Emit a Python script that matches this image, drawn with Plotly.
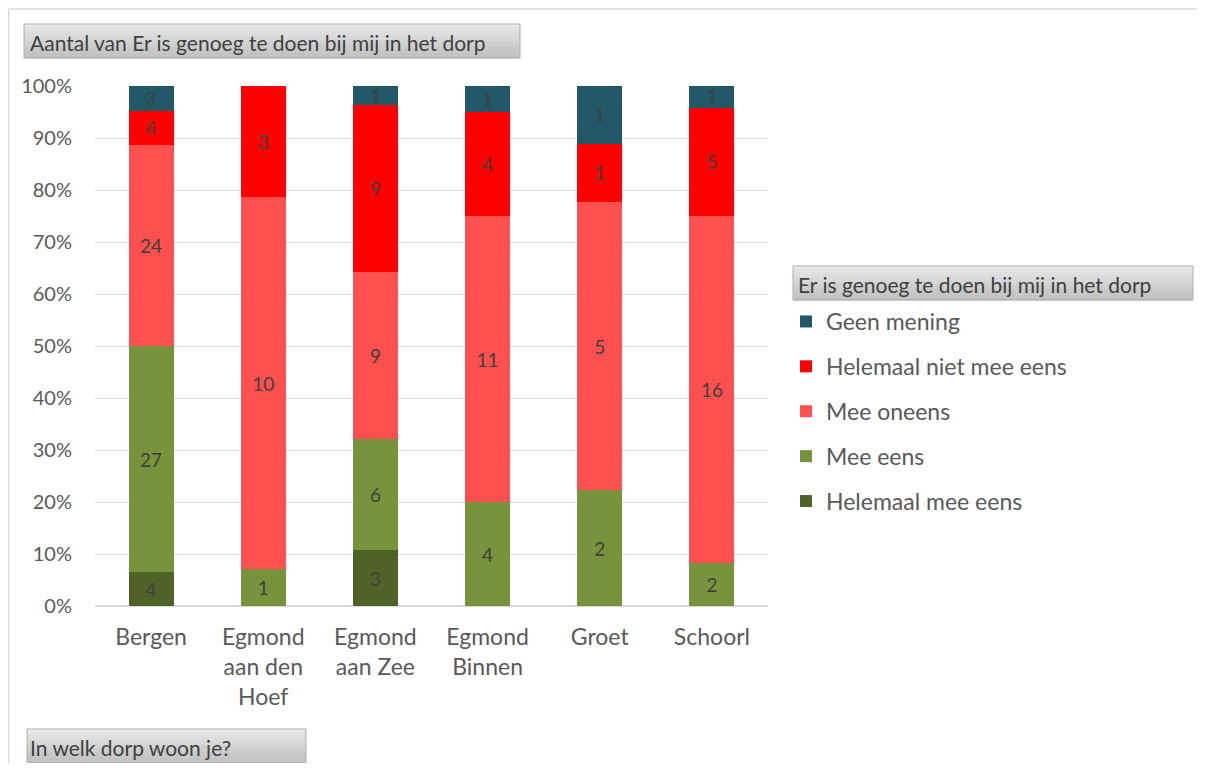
import plotly.graph_objects as go

villages = ["Bergen", "Egmond<br>aan den<br>Hoef", "Egmond<br>aan Zee", "Egmond<br>Binnen", "Groet", "Schoorl"]
helemaal_mee_eens = [4, None, 3, None, None, None]
mee_eens = [27, 1, 6, 4, 2, 2]
mee_oneens = [24, 10, 9, 11, 5, 16]
helemaal_niet_mee_eens = [4, 3, 9, 4, 1, 5]
geen_mening = [3, None, 1, 1, 1, 1]

series = [
    ("Helemaal mee eens", helemaal_mee_eens, "#4F6228"),
    ("Mee eens", mee_eens, "#77933C"),
    ("Mee oneens", mee_oneens, "#FF5050"),
    ("Helemaal niet mee eens", helemaal_niet_mee_eens, "#FF0000"),
    ("Geen mening", geen_mening, "#215968"),
]

# page has an 8px body margin; work in page pixels and convert
OFF = 8
W, H = 1205 - 2 * OFF, 771 - 2 * OFF
L, R, T, B = 95 - OFF, 768 - OFF, 86 - OFF, 606 - OFF
FONT = "Lato, 'Noto Sans', sans-serif"

def px(x):
    return (x - OFF - L) / (R - L)

def py(y):
    return (B - (y - OFF)) / (B - T)

fig = go.Figure()
for i, (name, vals, col) in enumerate(series):
    fig.add_trace(go.Bar(
        x=villages, y=vals, name=name, marker=dict(color=col, line=dict(width=0)),
        text=[("" if v is None else str(v)) for v in vals],
        textposition="inside", insidetextanchor="middle", textangle=0,
        textfont=dict(color="#404040", size=19, family=FONT),
        legendgroup=name, legendrank=len(series) - i,
    ))

shapes = []
# chart frame
shapes.append(dict(type="line", xref="paper", yref="paper", x0=px(8), x1=px(1205), y0=py(9), y1=py(9),
                   line=dict(color="#d9d9d9", width=1.5), layer="below"))
shapes.append(dict(type="line", xref="paper", yref="paper", x0=px(8.5), x1=px(8.5), y0=py(9), y1=py(771),
                   line=dict(color="#d9d9d9", width=1.5), layer="below"))

def button(x0, y0, x1, y1, n=12):
    top = (232, 232, 232)
    bot = (192, 192, 192)
    h = (y1 - y0) / n
    for k in range(n):
        t = k / (n - 1)
        c = tuple(int(top[j] + (bot[j] - top[j]) * t) for j in range(3))
        shapes.append(dict(type="rect", xref="paper", yref="paper",
                           x0=px(x0), x1=px(x1), y0=py(y0 + k * h), y1=py(y0 + (k + 1) * h + 0.5),
                           fillcolor="rgb(%d,%d,%d)" % c, line=dict(width=0), layer="below"))
    shapes.append(dict(type="rect", xref="paper", yref="paper", x0=px(x0), x1=px(x1), y0=py(y0), y1=py(y1),
                       fillcolor="rgba(0,0,0,0)", line=dict(color="#b0b0b0", width=1), layer="below"))

button(24, 24, 520, 58)
button(793, 266, 1193, 300)
button(27, 729, 306, 763)

annotations = [
    dict(text="Aantal van Er is genoeg te doen bij mij in het dorp", xref="paper", yref="paper",
         x=px(28), y=py(42), xanchor="left", yanchor="middle", showarrow=False,
         font=dict(size=21, color="#404040", family=FONT)),
    dict(text="Er is genoeg te doen bij mij in het dorp", xref="paper", yref="paper",
         x=px(796), y=py(284), xanchor="left", yanchor="middle", showarrow=False,
         font=dict(size=21, color="#404040", family=FONT)),
    dict(text="In welk dorp woon je?", xref="paper", yref="paper",
         x=px(28), y=py(747), xanchor="left", yanchor="middle", showarrow=False,
         font=dict(size=21, color="#404040", family=FONT)),
]

fig.update_layout(
    width=W, height=H,
    margin=dict(l=L, r=W - R, t=T, b=H - B, pad=0),
    barmode="stack", barnorm="percent", bargap=0.6,
    plot_bgcolor="white", paper_bgcolor="white",
    font=dict(family=FONT, color="#595959"),
    uniformtext=dict(minsize=19, mode="show"),
    xaxis=dict(showgrid=False, showline=False, ticks="", tickfont=dict(size=23, color="#595959"),
               fixedrange=True, ticklabelstandoff=15),
    yaxis=dict(range=[0, 100], dtick=10, ticksuffix="%", showgrid=True, gridcolor="#d9d9d9",
               gridwidth=1, zeroline=True, zerolinecolor="#d9d9d9", showline=False,
               tickfont=dict(size=20, color="#595959"), ticklabelstandoff=22),
    legend=dict(x=px(786), y=py(300), xanchor="left", yanchor="top", traceorder="grouped",
                tracegroupgap=12, font=dict(size=23, color="#595959", family=FONT),
                itemwidth=30, bgcolor="rgba(0,0,0,0)"),
    shapes=shapes, annotations=annotations, showlegend=True,
)

fig.write_html("out.html")
